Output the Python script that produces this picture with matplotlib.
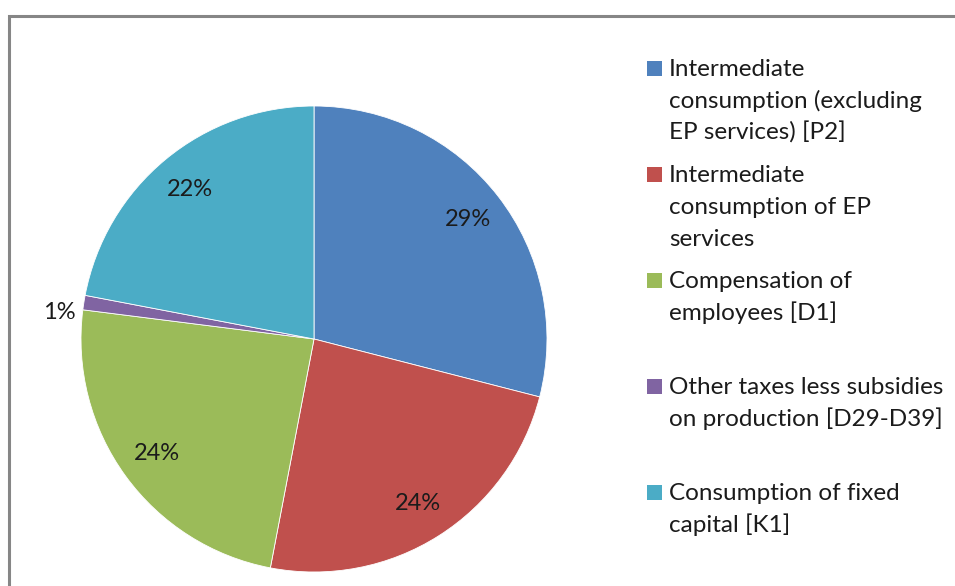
import matplotlib
matplotlib.use("Agg")
import matplotlib.pyplot as plt
from matplotlib.patches import Rectangle
import numpy as np

plt.rcParams["font.family"] = ["Lato", "DejaVu Sans"]

categories = [
    "Intermediate\nconsumption (excluding\nEP services) [P2]",
    "Intermediate\nconsumption of EP\nservices",
    "Compensation of\nemployees [D1]",
    "Other taxes less subsidies\non production [D29-D39]",
    "Consumption of fixed\ncapital [K1]",
]
shares = [29, 24, 24, 1, 22]
pct_labels = ["29%", "24%", "24%", "1%", "22%"]
colors = ["#4F81BD", "#C0504D", "#9BBB59", "#8064A2", "#4BACC6"]

W, H = 955, 586
fig = plt.figure(figsize=(W / 100, H / 100), dpi=100)
ax = fig.add_axes([0, 0, 1, 1])

cx, cy, r = 314, H - 339, 233
wedges, _ = ax.pie(
    shares, colors=colors, startangle=90, counterclock=False,
    center=(cx, cy), radius=r,
    wedgeprops=dict(edgecolor="white", linewidth=0.6),
)
ax.set_aspect("auto")
ax.set_xlim(0, W)
ax.set_ylim(0, H)
ax.axis("off")

# percentage labels; thin slices get their label outside the pie
text_color = "#1b1b1b"
for w, lab, v in zip(wedges, pct_labels, shares):
    mid = (w.theta1 + w.theta2) / 2
    if v < 5:
        d, mid = 1.10, mid + 3
    else:
        d = 0.835
    a = np.deg2rad(mid)
    ax.text(cx + d * r * np.cos(a), cy + d * r * np.sin(a), lab,
            ha="center", va="center", fontsize=17, color=text_color)

# chart border
ax.add_patch(Rectangle((9, -20), W + 40, H - 16 + 20, fill=False,
                       edgecolor="#868686", linewidth=2.2, clip_on=False))

# legend with equal slots per entry
slot_top = 61
slot_h = 106
line_h = 32
for i, (lab, c) in enumerate(zip(categories, colors)):
    top = slot_top + i * slot_h
    ax.add_patch(Rectangle((647, H - top - 15), 15, 15, facecolor=c,
                           edgecolor="none"))
    for k, line in enumerate(lab.split("\n")):
        ax.text(669, H - (top + 15 + k * line_h), line, ha="left",
                va="baseline", fontsize=17.5, color=text_color)

fig.savefig("out.png", dpi=100)
